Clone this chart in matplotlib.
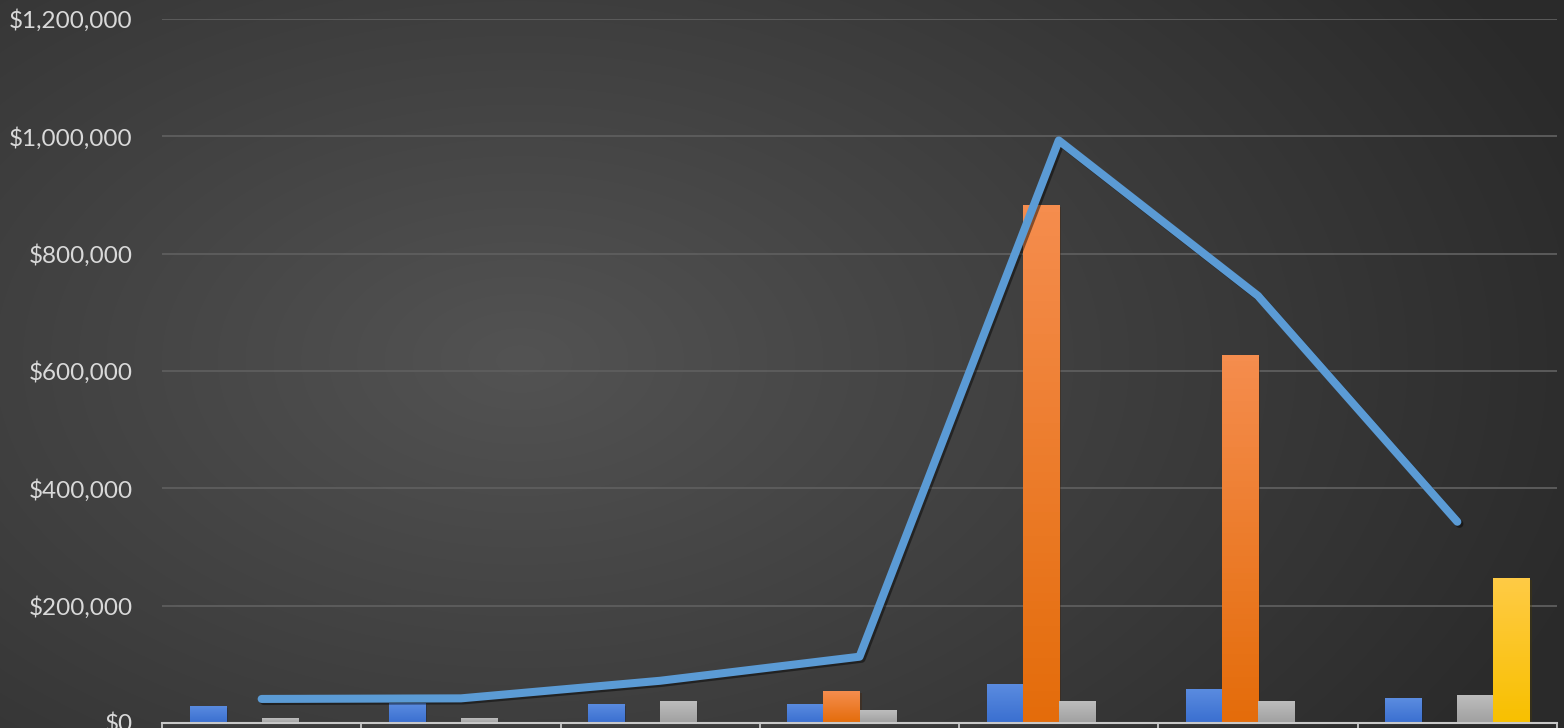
import numpy as np
import matplotlib
matplotlib.use("Agg")
from matplotlib import pyplot as plt
from matplotlib import patheffects as pe
from matplotlib.ticker import FuncFormatter, FixedLocator

# values (categories are not labelled in the picture)
categories = ["1", "2", "3", "4", "5", "6", "7"]
blue_vals = [29000, 34000, 32500, 32500, 67000, 58000, 42000]
orange_vals = [0, 0, 0, 54500, 883000, 627000, 0]
gray_vals = [8500, 8500, 37500, 22000, 37500, 37500, 47500]
yellow_vals = [0, 0, 0, 0, 0, 0, 247000]
line_vals = [41000, 42000, 72000, 113000, 993000, 728000, 343000]
y_ticks = [0, 200000, 400000, 600000, 800000, 1000000, 1200000]

series = [
    (blue_vals, "#3a6fd0", "#5b8ce0"),
    (orange_vals, "#e46c0a", "#f58d4e"),
    (gray_vals, "#a0a0a0", "#bdbdbd"),
    (yellow_vals, "#f8c000", "#ffcb45"),
]

plt.rcParams['font.family'] = ['Lato', 'DejaVu Sans']

fig = plt.figure(figsize=(15.64, 7.28), dpi=100)

# dark radial background
bg = fig.add_axes([0, 0, 1, 1], zorder=0)
yy, xx = np.mgrid[0:728, 0:1564]
d = np.sqrt(((xx - 520) / 1100.0) ** 2 + ((yy - 360) / 680.0) ** 2)
shade = np.clip(0.325 - 0.155 * d, 0.165, 0.33)
bg.imshow(np.dstack([shade] * 3), aspect="auto", extent=[0, 1, 0, 1])
bg.axis("off")

ax = fig.add_axes([162 / 1564, 5 / 728, 1395 / 1564, 704 / 728], zorder=1)
ax.patch.set_alpha(0)

x = np.arange(len(categories))
w = 0.181
offsets = [-1.5, -0.5, 0.5, 1.5]

for (vals, c_bot, c_top), off in zip(series, offsets):
    bars = ax.bar(x + off * w, vals, width=w, color=c_bot, zorder=3,
                  path_effects=[pe.SimplePatchShadow(offset=(1.5, -1.5), alpha=0.35),
                                pe.Normal()])
    grad = np.linspace(1, 0, 64).reshape(-1, 1)
    cmap = matplotlib.colors.LinearSegmentedColormap.from_list("g", [c_bot, c_top])
    for b, v in zip(bars, vals):
        if v <= 0:
            continue
        im = ax.imshow(grad, cmap=cmap, aspect="auto", zorder=3.5,
                       extent=[b.get_x(), b.get_x() + b.get_width(), 0, v])
        im.set_clip_path(b)

ax.plot(x, line_vals, color="#5b9bd5", lw=5.8, solid_capstyle="round",
        solid_joinstyle="round", zorder=5,
        path_effects=[pe.SimpleLineShadow(offset=(1.5, -1.5), shadow_color="black", alpha=0.45),
                      pe.Normal()])

ax.set_xlim(-0.5, len(categories) - 0.5)
ax.set_ylim(0, 1200000)
ax.set_yticks(y_ticks)
ax.yaxis.set_major_formatter(FuncFormatter(lambda v, p: "${:,.0f}".format(v)))
ax.tick_params(axis="y", length=0, labelsize=17.5, labelcolor="#d9d9d9", pad=21)
ax.grid(axis="y", color="#5e5e5e", lw=1.3, zorder=1)

ax.xaxis.set_major_locator(FixedLocator(np.arange(-0.5, len(categories), 1.0)))
ax.set_xticklabels([])
ax.tick_params(axis="x", length=8, width=1.3, color="#c8c8c8", direction="out")

for s in ["top", "right", "left"]:
    ax.spines[s].set_visible(False)
ax.spines["bottom"].set_color("#c8c8c8")
ax.spines["bottom"].set_linewidth(1.5)
ax.spines["bottom"].set_zorder(4)

fig.savefig("out.png", dpi=100)
